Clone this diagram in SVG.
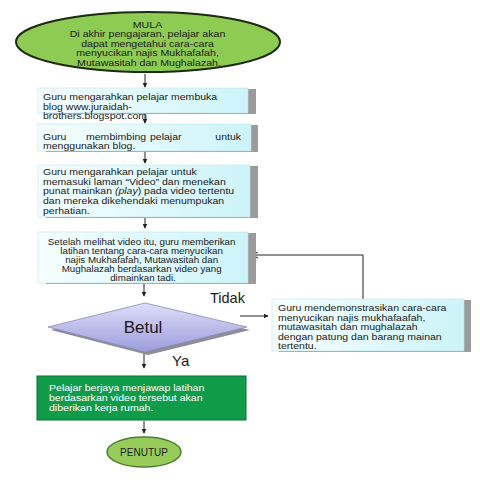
<svg xmlns="http://www.w3.org/2000/svg" width="480" height="480" viewBox="0 0 480 480">
<defs>
<linearGradient id="cyan" x1="0" y1="0" x2="1" y2="0">
<stop offset="0" stop-color="#f6feff"/>
<stop offset="1" stop-color="#ccf4f9"/>
</linearGradient>
<linearGradient id="lav" x1="0" y1="0" x2="0" y2="1">
<stop offset="0" stop-color="#dedefa"/>
<stop offset="1" stop-color="#9c9cdc"/>
</linearGradient>
<marker id="ah" viewBox="0 0 8 8" refX="7" refY="4" markerWidth="5" markerHeight="5" orient="auto" markerUnits="userSpaceOnUse">
<path d="M0,0 L8,4 L0,8 z" fill="#222"/>
</marker>
<marker id="oh" viewBox="0 0 8 8" refX="7" refY="4" markerWidth="7" markerHeight="7" orient="auto" markerUnits="userSpaceOnUse">
<path d="M0,0.5 L7,4 L0,7.5" fill="none" stroke="#222" stroke-width="1.2"/>
</marker>
</defs>
<style>
text{font-family:"Liberation Sans",Arial,sans-serif;fill:#1a1a1a}
.t{font-size:9.4px}
.s{font-size:8.8px}
.w{font-size:9.6px;fill:#ffffff}
.sh{fill:#9b9b9b}
.bx{fill:url(#cyan);stroke:#bfe3ea;stroke-width:0.6}
.c{stroke:#222;stroke-width:1;fill:none}
</style>
<rect width="480" height="480" fill="#ffffff"/>

<g id="connectors">
<line class="c" x1="145" y1="74" x2="145" y2="87" marker-end="url(#ah)"/>
<line class="c" x1="145" y1="114" x2="145" y2="123" marker-end="url(#ah)"/>
<line class="c" x1="145" y1="152" x2="145" y2="163" marker-end="url(#ah)"/>
<line class="c" x1="145" y1="218" x2="145" y2="228" marker-end="url(#ah)"/>
<line class="c" x1="144" y1="284" x2="144" y2="296" marker-end="url(#ah)"/>
<line class="c" x1="144" y1="353" x2="144" y2="368" marker-end="url(#ah)"/>
<line class="c" x1="144" y1="421" x2="144" y2="433" marker-end="url(#ah)"/>
<line class="c" x1="240" y1="316" x2="268" y2="316" marker-end="url(#ah)"/>
<polyline class="c" points="363,299 363,255 252,255" marker-end="url(#oh)"/>
</g>

<g id="start">
<ellipse cx="148" cy="42" rx="132" ry="30" fill="#8dcb52" stroke="#1c2a10" stroke-width="2"/>
<text class="t" text-anchor="middle" transform="matrix(1.13,0,0,1,-19.37,0)">
<tspan x="149" y="28">MULA</tspan>
<tspan x="149" y="37.5">Di akhir pengajaran, pelajar akan</tspan>
<tspan x="149" y="47">dapat mengetahui cara-cara</tspan>
<tspan x="149" y="56.5">menyucikan najis Mukhafafah,</tspan>
<tspan x="149" y="66">Mutawasitah dan Mughalazah.</tspan>
</text>
</g>

<g id="box1">
<rect class="sh" x="46" y="89" width="210" height="25"/>
<rect class="bx" x="38" y="88" width="210" height="25"/>
<text class="t" transform="matrix(1.12,0,0,1,-5.16,0)">
<tspan x="43" y="100.5">Guru mengarahkan pelajar membuka</tspan>
<tspan x="43" y="110">blog www.juraidah-</tspan>
<tspan x="43" y="119.5">brothers.blogspot.com</tspan>
</text>
</g>

<g id="box2">
<rect class="sh" x="46" y="125" width="212" height="27"/>
<rect class="bx" x="38" y="124" width="213" height="27"/>
<text class="t" transform="matrix(1.12,0,0,1,-5.16,0)">
<tspan x="43" y="140">Guru</tspan>
<tspan x="81.4" y="140">membimbing</tspan>
<tspan x="138.5" y="140">pelajar</tspan>
<tspan x="222.5" y="140" text-anchor="end">untuk</tspan>
<tspan x="43" y="149.5">menggunakan blog.</tspan>
</text>
</g>

<g id="box3">
<rect class="sh" x="46" y="166" width="212" height="52"/>
<rect class="bx" x="38" y="165" width="212" height="52"/>
<text class="t" transform="matrix(1.12,0,0,1,-5.16,0)">
<tspan x="43" y="175">Guru mengarahkan pelajar untuk</tspan>
<tspan x="43" y="185">memasuki laman “Video” dan menekan</tspan>
<tspan x="43" y="194.5">punat mainkan <tspan font-style="italic">(play</tspan>) pada video tertentu</tspan>
<tspan x="43" y="204.5">dan mereka dikehendaki menumpukan</tspan>
<tspan x="43" y="214">perhatian.</tspan>
</text>
</g>

<g id="box4">
<rect class="sh" x="46" y="233" width="210" height="51"/>
<rect class="bx" x="38" y="232" width="210" height="51"/>
<text class="s" text-anchor="middle" transform="matrix(1.11,0,0,1,-15.73,0)">
<tspan x="143" y="245">Setelah melihat video itu, guru memberikan</tspan>
<tspan x="143" y="254">latihan tentang cara-cara menyucikan</tspan>
<tspan x="143" y="263">najis Mukhafafah, Mutawasitah dan</tspan>
<tspan x="143" y="272">Mughalazah berdasarkan video yang</tspan>
<tspan x="143" y="281">dimainkan tadi.</tspan>
</text>
</g>

<g id="decision">
<polygon points="148,306 250,330 148,355 51,330" fill="#8e8e96"/>
<polygon points="145,303 247,327 145,352 48,327" fill="url(#lav)" stroke="#8a8ab8" stroke-width="0.8"/>
<text x="143" y="333" font-size="17" text-anchor="middle">Betul</text>
</g>

<g id="labels">
<text x="210" y="303" font-size="14.5">Tidak</text>
<text x="172" y="366" font-size="15">Ya</text>
</g>

<g id="remedial">
<rect class="sh" x="279" y="300" width="192" height="52"/>
<rect class="bx" x="272" y="299" width="192" height="52"/>
<text class="t" transform="matrix(1.12,0,0,1,-33.36,0)">
<tspan x="278" y="311.5">Guru mendemonstrasikan cara-cara</tspan>
<tspan x="278" y="321">menyucikan najis mukhafaafah,</tspan>
<tspan x="278" y="330.5">mutawasitah dan mughalazah</tspan>
<tspan x="278" y="340">dengan patung dan barang mainan</tspan>
<tspan x="278" y="349.5">tertentu.</tspan>
</text>
</g>

<g id="success">
<rect x="37" y="376" width="209" height="44" fill="#0f9c48" stroke="#0b6e35" stroke-width="1"/>
<text class="w" transform="matrix(1.1,0,0,1,-4.9,0)">
<tspan x="49" y="391.5">Pelajar berjaya menjawap latihan</tspan>
<tspan x="49" y="401.5">berdasarkan video tersebut akan</tspan>
<tspan x="49" y="411.5">diberikan kerja rumah.</tspan>
</text>
</g>

<g id="end">
<ellipse cx="144" cy="452" rx="37" ry="15" fill="#98cc5a" stroke="#4f7d30" stroke-width="1.5"/>
<text x="144" y="456" font-size="10" text-anchor="middle">PENUTUP</text>
</g>
</svg>
